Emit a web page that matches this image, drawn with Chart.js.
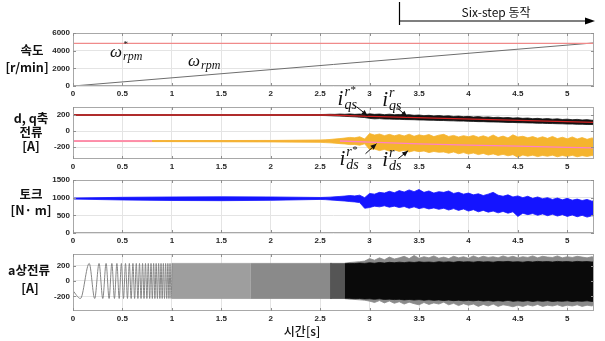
<!DOCTYPE html>
<html><head><meta charset="utf-8">
<script src="https://cdn.jsdelivr.net/npm/chart.js@4.4.1/dist/chart.umd.min.js"></script>
<style>
html,body{margin:0;padding:0;background:#fff;}
#wrap{position:relative;width:605px;height:341px;overflow:hidden;background:#fff;}
canvas{position:absolute;left:0;top:0;}
.lbl{position:absolute;transform:translate(-50%,-50%);font-family:"Noto Sans CJK KR","Noto Sans",sans-serif;font-weight:700;font-size:12.5px;color:#111;white-space:nowrap;line-height:1;z-index:5;}
.xt{position:absolute;transform:translate(-50%,-50%);font-family:"Noto Sans CJK KR","Noto Sans",sans-serif;font-weight:500;font-size:12px;color:#111;white-space:nowrap;line-height:1;z-index:5;}
</style></head><body>
<div id="wrap">
<canvas id="c1" width="605" height="341"></canvas>
<canvas id="c2" width="605" height="341"></canvas>
<canvas id="c3" width="605" height="341"></canvas>
<canvas id="c4" width="605" height="341"></canvas>
<div class="lbl" style="left:32px;top:50px">속도</div>
<div class="lbl" style="left:27px;top:67px">[r/min]</div>
<div class="lbl" style="left:31px;top:118px">d, q축</div>
<div class="lbl" style="left:31px;top:132px">전류</div>
<div class="lbl" style="left:31px;top:146px">[A]</div>
<div class="lbl" style="left:31px;top:194px">토크</div>
<div class="lbl" style="left:31px;top:210px">[N· m]</div>
<div class="lbl" style="left:29px;top:270px">a상전류</div>
<div class="lbl" style="left:30px;top:288px">[A]</div>
<div class="xt" style="left:302px;top:331px">시간[s]</div>
</div>
<script>
// ---------- tick labels ----------
const timeTicks=[0,0.5,1,1.5,2,2.5,3,3.5,4,4.5,5];
const speedTicks=[0,2000,4000,6000];
const dqTicks=[-200,0,200];
const torqueTicks=[0,500,1000,1500];
const phaseTicks=[-200,0,200];

// ---------- speed [r/min] ----------
const speedRefT=[0,0,5.27];
const speedRefV=[0,4830,4830];
const speedT=[0,5.27];
const speedV=[0,4880];

// ---------- d,q currents [A] ----------
const iqsRefT=[0,0,2.6,3.0,5.27];
const iqsRefV=[0,200,200,183,107];
const idsRefT=[0,0,0.8,2.7,3.0,3.5,4.0,4.5,5.0,5.27];
const idsRefV=[0,-125,-125,-125,-140,-160,-176,-190,-204,-212];

// common time grid for noisy envelopes
const tBand=[0,0.5,1,1.5,2,2.5,2.55,2.6,2.65,2.7,2.75,2.8,2.85,2.9,2.95,3,3.05,3.1,3.15,3.2,3.25,3.3,3.35,3.4,3.45,3.5,3.55,3.6,3.65,3.7,3.75,3.8,3.85,3.9,3.95,4,4.05,4.1,4.15,4.2,4.25,4.3,4.35,4.4,4.45,4.5,4.55,4.6,4.65,4.7,4.75,4.8,4.85,4.9,4.95,5,5.05,5.1,5.15,5.2,5.25,5.27];

const iqsHi=[204,204,204,204,204,206,207,209,208,212,209,214,208,212,204,
215,208,212,204,210,203,207,199,204,196,200,192,196,189,193,186,190,182,186,179,183,175,180,172,176,168,172,165,169,161,165,158,162,154,158,151,155,148,152,144,148,141,145,138,142,134,136];
const iqsLo=[196,196,196,196,196,194,193,191,188,186,183,180,177,173,168,
158,152,155,150,149,147,146,143,142,141,138,137,135,134,131,131,128,127,124,124,121,120,117,117,114,113,111,110,107,107,104,103,101,100,97,97,94,93,91,90,87,87,84,84,81,81,80];

const idsHi=[-122,-121,-120,-119,-118,-112,-110,-106,-100,-95,-88,-80,-85,-72,-100,
-32,-50,-38,-58,-42,-60,-45,-62,-40,-66,-48,-60,-44,-70,-52,-42,-68,-55,-75,-58,-72,-56,-78,-60,-80,-50,-82,-64,-86,-48,-75,-66,-85,-70,-90,-72,-92,-68,-95,-78,-98,-74,-100,-82,-104,-86,-96];
const idsLo=[-130,-132,-133,-135,-137,-142,-145,-148,-152,-158,-162,-170,-168,-178,-160,
-232,-225,-245,-230,-250,-236,-255,-242,-262,-246,-258,-250,-270,-256,-266,-262,-278,-262,-284,-270,-288,-275,-295,-280,-300,-286,-305,-292,-310,-296,-328,-300,-315,-302,-320,-305,-316,-302,-322,-306,-318,-304,-322,-308,-318,-306,-314];

// ---------- torque [N·m] ----------
const torqueHi=[990,1010,1020,1025,1020,1005,1010,1015,1025,1035,1045,1060,1050,1070,1000,
1120,1100,1150,1130,1180,1140,1200,1160,1220,1170,1230,1150,1190,1130,1170,1150,1190,1120,1150,1100,1130,1080,1110,1060,1100,1150,1070,1040,1080,1020,1050,1000,1040,980,1020,970,1000,950,990,940,980,930,960,920,950,900,920];
const torqueLo=[960,935,920,915,925,950,945,935,925,915,905,890,880,860,700,
720,760,740,770,730,760,720,750,700,740,690,720,680,710,670,700,650,690,640,680,620,660,600,640,590,620,570,610,560,600,470,560,520,550,500,540,490,530,480,520,470,510,460,500,450,490,470];

// ---------- a-phase current [A] ----------
const phasePeakT=[0,0.075,0.164,0.2195,0.2635,0.3012,0.3347,0.3651,0.3931,0.4193,0.444,0.4673,0.4895,0.5108,0.5312,0.5509,0.5699,0.5883,0.6061,0.6234,0.6402,0.6566,0.6726,0.6883,0.7035,0.7185,0.7332,0.7475,0.7616,0.7755,0.7891,0.8024,0.8156,0.8285,0.8413,0.8538,0.8662,0.8784,0.8904,0.9023,0.914,0.9256,0.937,0.9483,0.9594,0.9705,0.9814,0.9921,1.0028];
const phasePeakV=[-127,-228,228,-228,228,-228,228,-228,228,-228,228,-228,228,-228,228,-228,228,-228,228,-228,228,-228,228,-228,228,-228,228,-228,228,-228,228,-228,228,-228,228,-228,228,-228,228,-228,228,-228,228,-228,228,-228,228,-228,228];
const phaseLightT=[1.0,1.8];
const phaseLightHi=[228,228];
const phaseLightLo=[-228,-228];
const phaseMidT=[1.8,2.62];
const phaseMidHi=[228,228];
const phaseMidLo=[-228,-228];
const phaseDarkT=[2.6,2.78];
const phaseDarkHi=[228,228];
const phaseDarkLo=[-228,-228];
const phaseCoreHi=[null,null,null,null,null,null,null,null,null,null,224,228,226,232,228,
236,230,240,232,242,236,244,238,246,240,248,242,246,240,250,244,248,242,252,246,250,244,252,246,250,244,252,248,254,246,250,244,252,246,254,248,252,246,254,248,252,246,254,248,252,246,250];
const phaseCoreLo=[null,null,null,null,null,null,null,null,null,null,-224,-226,-230,-228,-234,
-232,-238,-232,-240,-236,-242,-238,-246,-240,-248,-242,-250,-244,-252,-246,-254,-248,-256,-250,-258,-252,-258,-250,-260,-254,-262,-256,-262,-252,-264,-258,-264,-256,-266,-258,-264,-256,-266,-260,-264,-258,-266,-260,-264,-258,-266,-262];
const phaseSpikeHi=[null,null,null,null,null,null,null,null,null,null,230,240,245,250,258,
290,270,300,275,310,285,300,320,290,330,295,315,300,325,295,310,290,320,300,315,295,325,300,320,305,315,300,325,305,320,300,315,305,325,300,320,310,305,325,300,315,305,320,310,300,315,305];
const phaseSpikeLo=[null,null,null,null,null,null,null,null,null,null,-230,-236,-240,-245,-250,
-262,-280,-255,-285,-260,-290,-270,-300,-275,-295,-310,-280,-305,-285,-300,-275,-310,-290,-320,-295,-315,-300,-330,-305,-325,-300,-330,-310,-320,-335,-315,-330,-310,-325,-305,-330,-315,-325,-310,-330,-315,-325,-310,-330,-315,-325,-310];

// ---------- helpers ----------
function pts(T,V){const o=[];T.forEach((t,i)=>{if(V[i]!==null&&V[i]!==undefined)o.push({x:t,y:V[i]});});return o;}
Chart.defaults.font.family='"Liberation Sans", Arial, sans-serif';

const framePlugin={id:'frame',afterDatasetsDraw(chart){
  const {ctx,chartArea:a,scales:{x,y}}=chart;
  ctx.save();ctx.strokeStyle='#a8a8a8';ctx.lineWidth=1;
  ctx.strokeRect(a.left+0.5,a.top+0.5,a.right-a.left-1,a.bottom-a.top-1);
  ctx.beginPath();ctx.strokeStyle='#909090';
  x.ticks.forEach(t=>{const p=Math.round(x.getPixelForValue(t.value))+0.5;ctx.moveTo(p,a.bottom);ctx.lineTo(p,a.bottom-3);ctx.moveTo(p,a.top);ctx.lineTo(p,a.top+3);});
  y.ticks.forEach(t=>{const p=Math.round(y.getPixelForValue(t.value))+0.5;ctx.moveTo(a.left,p);ctx.lineTo(a.left+3,p);ctx.moveTo(a.right,p);ctx.lineTo(a.right-3,p);});
  ctx.stroke();ctx.restore();}};

function mathText(ctx,x,y,base,sup,star,sub,bs,ss){
  ctx.font='italic '+bs+'px "Liberation Serif","DejaVu Serif",serif';
  ctx.fillText(base,x,y);
  const w=ctx.measureText(base).width;
  ctx.font='italic '+ss+'px "Liberation Serif","DejaVu Serif",serif';
  let sw=0;
  if(sup){ctx.fillText(sup,x+w+1,y-bs*0.42);sw=ctx.measureText(sup).width;}
  if(star){ctx.font=(ss-3)+'px "Liberation Serif",serif';ctx.fillText('*',x+w+1+sw+0.5,y-bs*0.58);}
  if(sub){ctx.font='italic '+ss+'px "Liberation Serif","DejaVu Serif",serif';ctx.fillText(sub,x+w+1,y+bs*0.2);}
}
function arrow(ctx,x0,y0,x1,y1){
  ctx.beginPath();ctx.moveTo(x0,y0);ctx.lineTo(x1,y1);ctx.stroke();
  const ang=Math.atan2(y1-y0,x1-x0),L=6,H=2.6;
  ctx.beginPath();ctx.moveTo(x1,y1);
  ctx.lineTo(x1-L*Math.cos(ang)+H*Math.sin(ang),y1-L*Math.sin(ang)-H*Math.cos(ang));
  ctx.lineTo(x1-L*Math.cos(ang)-H*Math.sin(ang),y1-L*Math.sin(ang)+H*Math.cos(ang));
  ctx.closePath();ctx.fill();
}

const speedNotes={id:'speedNotes',afterDraw(chart){
  const ctx=chart.ctx,xs=chart.scales.x;
  ctx.save();ctx.fillStyle='#111';ctx.textBaseline='alphabetic';
  mathText(ctx,110,57,'\u03C9','',true,'rpm',17,12);
  mathText(ctx,188,66,'\u03C9','',false,'rpm',17,12);
  // six-step arrow
  const x0=Math.round(xs.getPixelForValue(3.3))+0.5;
  ctx.strokeStyle='#000';ctx.fillStyle='#000';ctx.lineWidth=1.2;
  ctx.beginPath();ctx.moveTo(x0,2);ctx.lineTo(x0,25);ctx.moveTo(x0,21);ctx.lineTo(587,21);ctx.stroke();
  ctx.beginPath();ctx.moveTo(595,21);ctx.lineTo(585,17.5);ctx.lineTo(585,24.5);ctx.closePath();ctx.fill();
  ctx.font='12px "Noto Sans CJK KR","Noto Sans",sans-serif';ctx.textAlign='center';ctx.textBaseline='middle';
  ctx.fillStyle='#111';ctx.fillText('Six-step 동작',496,12.5);
  ctx.restore();}};

const dqNotes={id:'dqNotes',afterDraw(chart){
  const ctx=chart.ctx,xs=chart.scales.x,ys=chart.scales.y;
  const notes=[
    {t:2.98,v:191,ax:-11,ay:-9,tx:-30,ty:-11,star:true,sub:'qs'},
    {t:3.38,v:178,ax:-10,ay:-9,tx:-25,ty:-11,star:false,sub:'qs'},
    {t:3.07,v:-159,ax:-11,ay:10,tx:-37,ty:21,star:true,sub:'ds'},
    {t:3.39,v:-246,ax:-10,ay:8,tx:-26,ty:15,star:false,sub:'ds'}
  ];
  ctx.save();ctx.fillStyle='#111';ctx.strokeStyle='#111';ctx.lineWidth=1;
  notes.forEach(n=>{
    const px=xs.getPixelForValue(n.t),py=ys.getPixelForValue(n.v);
    arrow(ctx,px+n.ax,py+n.ay,px,py);
    mathText(ctx,px+n.tx,py+n.ty,'i','r',n.star,n.sub,21,14);
  });
  ctx.restore();}};

function opts(yMin,yMax,yT,padTop,plotBottom){
  return {
    responsive:false,animation:false,events:[],
    layout:{autoPadding:false,padding:{left:0,right:11,top:padTop,bottom:341-plotBottom-14}},
    plugins:{legend:{display:false},tooltip:{enabled:false}},
    elements:{point:{radius:0},line:{tension:0,borderJoinStyle:'round'}},
    scales:{
      x:{type:'linear',min:0,max:5.27,
        afterBuildTicks:s=>{s.ticks=timeTicks.map(v=>({value:v}));},
        afterFit:s=>{s.height=14;},
        grid:{color:'#e4e4e4',drawTicks:false,lineWidth:1},border:{display:false},
        ticks:{padding:3,maxRotation:0,autoSkip:false,color:'#262626',font:{size:8,weight:'bold'},callback:v=>String(v)}},
      y:{type:'linear',min:yMin,max:yMax,
        afterBuildTicks:s=>{s.ticks=yT.map(v=>({value:v}));},
        afterFit:s=>{s.width=73;},
        grid:{color:'#e4e4e4',drawTicks:false,lineWidth:1},border:{display:false},
        ticks:{padding:3,autoSkip:false,color:'#262626',font:{size:8,weight:'bold'},callback:v=>String(v)}}
    }
  };
}
const L=(data,color,w,extra)=>Object.assign({data,borderColor:color,borderWidth:w,fill:false,pointRadius:0},extra||{});

new Chart(document.getElementById('c1'),{type:'line',
  data:{datasets:[
    L(pts(speedRefT,speedRefV),'#f08a8a',1.3),
    L(pts(speedT,speedV),'#6e6e6e',1)
  ]},
  options:opts(0,6000,speedTicks,33,86),plugins:[framePlugin,speedNotes]});

new Chart(document.getElementById('c2'),{type:'line',
  data:{datasets:[
    L(pts(iqsRefT,iqsRefV),'#d42424',1.3),
    L(pts(idsRefT,idsRefV),'#ff80c8',1.3,{segment:{borderColor:c=>(c.p0.parsed.x>=0.8&&c.p1.parsed.x<=2.7)?'#f5b035':undefined}}),
    L(pts(tBand,iqsHi),'#111',0.8,{fill:'+1',backgroundColor:'#111'}),
    L(pts(tBand,iqsLo),'#111',0.8),
    L(pts(tBand,idsHi),'#f5b42e',0.8,{fill:'+1',backgroundColor:'#f5b42e'}),
    L(pts(tBand,idsLo),'#f5b42e',0.8)
  ]},
  options:opts(-350,300,dqTicks,107,159),plugins:[framePlugin,dqNotes]});

new Chart(document.getElementById('c3'),{type:'line',
  data:{datasets:[
    L(pts(tBand,torqueHi),'#1414ff',0.8,{fill:'+1',backgroundColor:'#1414ff'}),
    L(pts(tBand,torqueLo),'#1414ff',0.8)
  ]},
  options:opts(0,1500,torqueTicks,180,233),plugins:[framePlugin]});

new Chart(document.getElementById('c4'),{type:'line',
  data:{datasets:[
    L(pts(phasePeakT,phasePeakV),'#858585',1,{cubicInterpolationMode:'monotone'}),
    L(pts(tBand,phaseCoreHi),'#0a0a0a',0.8,{fill:'+1',backgroundColor:'#0a0a0a'}),
    L(pts(tBand,phaseCoreLo),'#0a0a0a',0.8),
    L(pts(tBand,phaseSpikeHi),'#8a8a8a',0.8,{fill:'+1',backgroundColor:'#8a8a8a'}),
    L(pts(tBand,phaseSpikeLo),'#8a8a8a',0.8),
    L(pts(phaseDarkT,phaseDarkHi),'#555555',0.8,{fill:'+1',backgroundColor:'#555555'}),
    L(pts(phaseDarkT,phaseDarkLo),'#555555',0.8),
    L(pts(phaseLightT,phaseLightHi),'#9e9e9e',0.8,{fill:'+1',backgroundColor:'#9e9e9e'}),
    L(pts(phaseLightT,phaseLightLo),'#9e9e9e',0.8),
    L(pts(phaseMidT,phaseMidHi),'#8a8a8a',0.8,{fill:'+1',backgroundColor:'#8a8a8a'}),
    L(pts(phaseMidT,phaseMidLo),'#8a8a8a',0.8)
  ]},
  options:opts(-390,350,phaseTicks,254,311),plugins:[framePlugin]});
</script>
</body></html>
